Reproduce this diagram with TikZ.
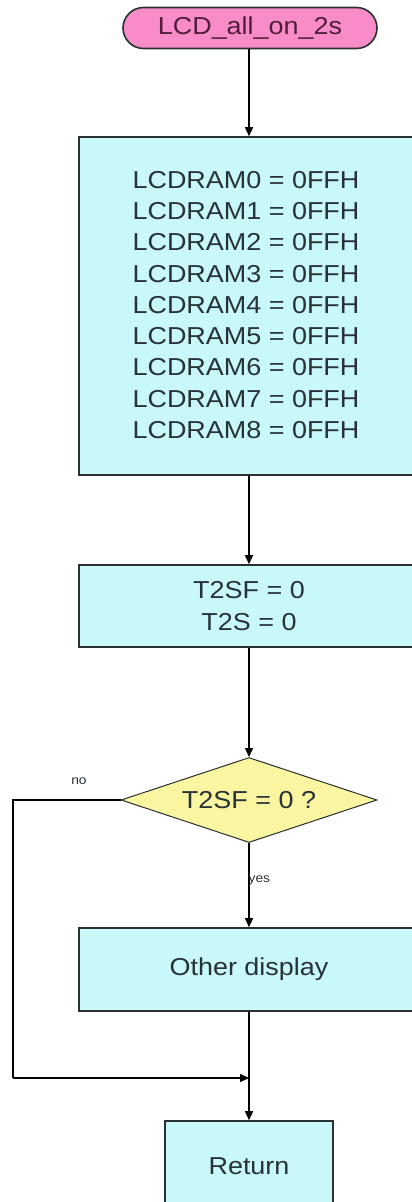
\documentclass[tikz,border=0pt]{standalone}
\usepackage{fontspec}
\setmainfont{Liberation Sans}[FakeStretch=1.1]
\usetikzlibrary{arrows.meta,shapes.misc,shapes.geometric}
\definecolor{boxfill}{RGB}{200,248,250}
\definecolor{termfill}{RGB}{248,140,200}
\definecolor{decfill}{RGB}{250,245,160}
\definecolor{edge}{RGB}{40,48,50}
\definecolor{ink}{RGB}{40,50,55}
\tikzset{
  procbox/.style={draw=edge, line width=1.6pt, fill=boxfill, rectangle,
    inner sep=0pt, text=ink, font=\fontsize{24.5}{31.25}\selectfont, align=center},
  termbox/.style={draw=edge, line width=1.6pt, fill=termfill, rounded rectangle,
    inner sep=0pt, text={rgb,255:red,80;green,30;blue,60}, font=\fontsize{24.5}{28}\selectfont},
  decbox/.style={draw=edge, line width=1pt, fill=decfill, diamond, aspect=3,
    inner sep=0pt, text=ink, font=\fontsize{24.5}{28}\selectfont},
  flow/.style={draw=black, line width=1.4pt, -{Triangle[width=8pt,length=9pt]}},
  plain/.style={draw=black, line width=1.4pt},
  tag/.style={text=ink, font=\fontsize{12.5}{14}\selectfont, inner sep=0pt}
}
\begin{document}
\begin{tikzpicture}[x=1pt,y=-1pt]
  \clip (0,0) rectangle (412,1202);
  \fill[white] (0,0) rectangle (412,1202);

  % start terminator
  \node[termbox, minimum width=254pt, minimum height=41pt] (start) at (250,28) {LCD\_all\_on\_2s};

  % display RAM fill
  \node[procbox, minimum width=340pt, minimum height=338pt] (ram) at (249,306) {};
  \node[text=ink, font=\fontsize{24.5}{31.25}\selectfont, align=left, inner sep=0pt] (ramtext) at (246,305)
    {LCDRAM0 = 0FFH\\LCDRAM1 = 0FFH\\LCDRAM2 = 0FFH\\LCDRAM3 = 0FFH\\LCDRAM4 = 0FFH\\
     LCDRAM5 = 0FFH\\LCDRAM6 = 0FFH\\LCDRAM7 = 0FFH\\LCDRAM8 = 0FFH};

  % timer flags
  \node[procbox, minimum width=340pt, minimum height=82pt] (init) at (249,606) {T2SF = 0\\T2S = 0};

  % decision
  \node[decbox, minimum width=256pt, minimum height=85pt] (dec) at (249,800) {T2SF = 0 ?};

  % other display
  \node[procbox, minimum width=340pt, minimum height=83pt] (other) at (249,969.5) {Other display};

  % return
  \node[procbox, minimum width=168pt, minimum height=90pt] (ret) at (249,1166) {Return};

  \coordinate (turn) at (13,1078);
  \coordinate (merge) at (249,1078);

  % connectors
  \draw[flow] (start.south -| ram.north) -- (ram.north);
  \draw[flow] (ram) -- (init);
  \draw[flow] (init) -- (dec);
  \draw[flow] (dec) -- (other) node[pos=0.45, right=-1pt, tag] {yes};
  \draw[plain] (dec.west) -| (turn);
  \draw[flow] (turn) -- (merge);
  \draw[flow] (other) -- (ret);

  \node[tag] (nolabel) at (79,781) {no};
\end{tikzpicture}
\end{document}
